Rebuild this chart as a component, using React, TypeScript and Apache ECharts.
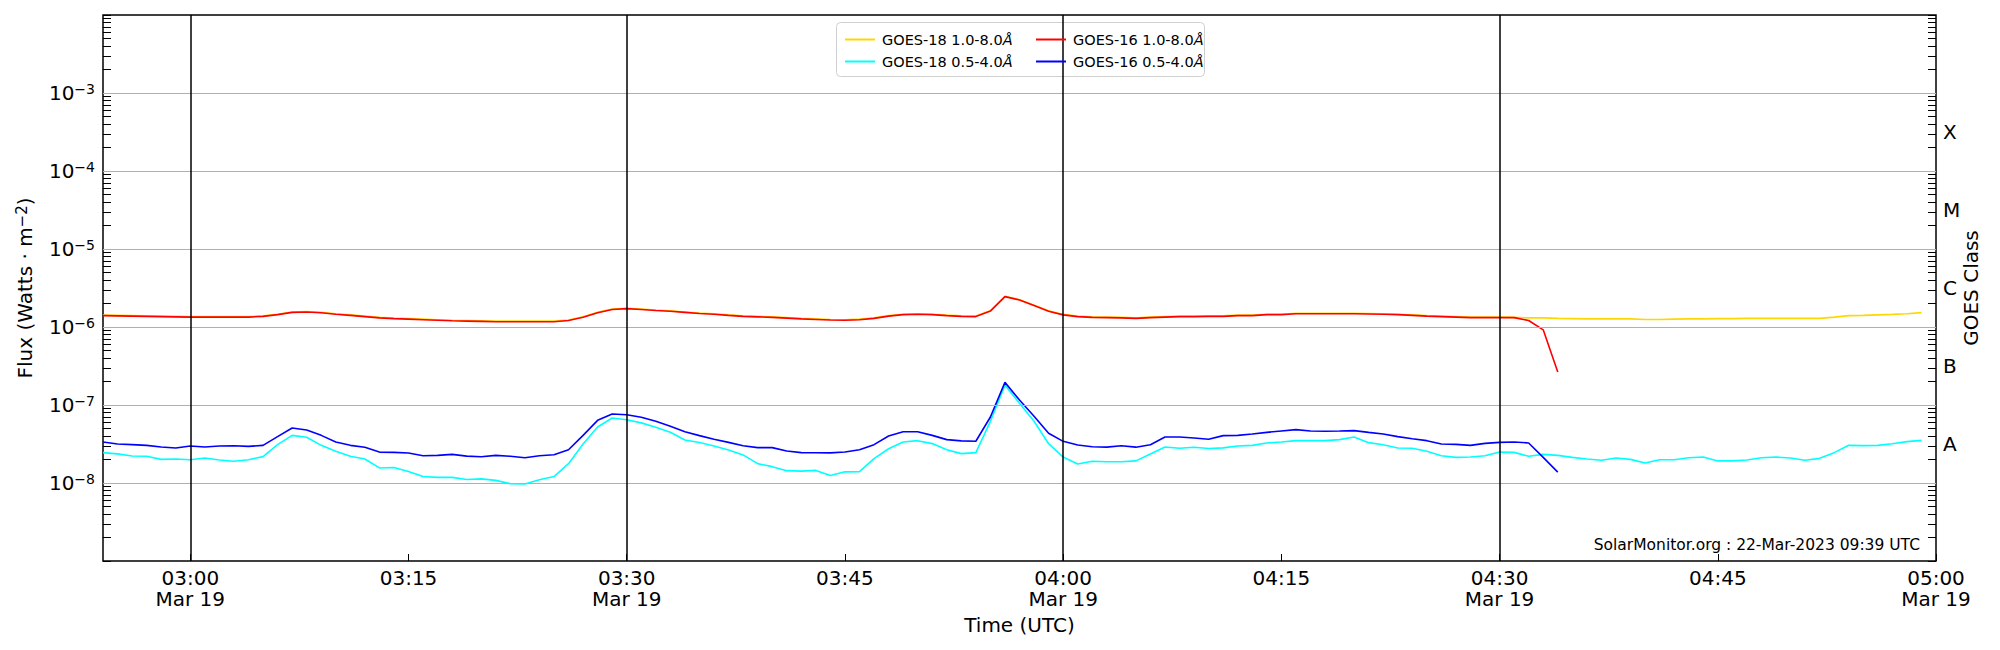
import React, { useEffect, useRef } from "react";
import * as echarts from "echarts";

// Time axis in minutes since 00:00 UTC, 19 Mar 2023 (02:54 .. 05:00)
const X_MIN = 174;
const X_MAX = 300;
const FIRST_SAMPLE = 174; // 02:54, one sample per minute
const X_TICKS = [180, 195, 210, 225, 240, 255, 270, 285, 300];
const X_VLINES = [180, 210, 240, 270];
const DATE_LABEL = "Mar 19";

const Y_MIN = 1e-9;
const Y_MAX = 1e-2;
const Y_LABELS = [1e-8, 1e-7, 1e-6, 1e-5, 1e-4, 1e-3];
const CLASS_NAMES = ["A", "B", "C", "M", "X"];
const CLASS_POS = [3.162e-8, 3.162e-7, 3.162e-6, 3.162e-5, 3.162e-4];

const NAME_G18_LONG = "GOES-18 1.0-8.0Å";
const NAME_G18_SHORT = "GOES-18 0.5-4.0Å";
const NAME_G16_LONG = "GOES-16 1.0-8.0Å";
const NAME_G16_SHORT = "GOES-16 0.5-4.0Å";

// GOES-16 1.0-8.0 Å (W m^-2), 02:54 .. 04:34
const G16_LONG = [
  1.40e-6, 1.39e-6, 1.38e-6, 1.37e-6, 1.36e-6, 1.35e-6, 1.34e-6, 1.34e-6, 1.34e-6, 1.34e-6,
  1.34e-6, 1.37e-6, 1.44e-6, 1.54e-6, 1.56e-6, 1.52e-6, 1.46e-6, 1.41e-6, 1.36e-6, 1.31e-6,
  1.28e-6, 1.26e-6, 1.24e-6, 1.22e-6, 1.20e-6, 1.19e-6, 1.18e-6, 1.17e-6, 1.17e-6, 1.17e-6,
  1.17e-6, 1.17e-6, 1.21e-6, 1.33e-6, 1.52e-6, 1.68e-6, 1.72e-6, 1.68e-6, 1.63e-6, 1.59e-6,
  1.54e-6, 1.49e-6, 1.46e-6, 1.41e-6, 1.37e-6, 1.35e-6, 1.33e-6, 1.30e-6, 1.27e-6, 1.25e-6,
  1.23e-6, 1.22e-6, 1.24e-6, 1.29e-6, 1.38e-6, 1.44e-6, 1.46e-6, 1.44e-6, 1.40e-6, 1.37e-6,
  1.36e-6, 1.60e-6, 2.45e-6, 2.22e-6, 1.88e-6, 1.59e-6, 1.43e-6, 1.36e-6, 1.33e-6, 1.32e-6,
  1.31e-6, 1.29e-6, 1.32e-6, 1.34e-6, 1.36e-6, 1.36e-6, 1.37e-6, 1.37e-6, 1.40e-6, 1.40e-6,
  1.44e-6, 1.44e-6, 1.48e-6, 1.48e-6, 1.48e-6, 1.48e-6, 1.48e-6, 1.47e-6, 1.46e-6, 1.44e-6,
  1.41e-6, 1.38e-6, 1.36e-6, 1.34e-6, 1.32e-6, 1.32e-6, 1.32e-6, 1.32e-6, 1.21e-6, 9.2e-7,
  2.65e-7,
];

// GOES-16 0.5-4.0 Å (W m^-2), 02:54 .. 04:34
const G16_SHORT = [
  3.36e-8, 3.16e-8, 3.10e-8, 3.04e-8, 2.90e-8, 2.81e-8, 2.98e-8, 2.90e-8, 2.98e-8, 3.00e-8,
  2.95e-8, 3.04e-8, 3.93e-8, 5.07e-8, 4.78e-8, 4.08e-8, 3.36e-8, 3.04e-8, 2.87e-8, 2.49e-8,
  2.47e-8, 2.42e-8, 2.24e-8, 2.26e-8, 2.33e-8, 2.21e-8, 2.17e-8, 2.26e-8, 2.20e-8, 2.11e-8,
  2.24e-8, 2.30e-8, 2.67e-8, 4.08e-8, 6.36e-8, 7.67e-8, 7.50e-8, 6.95e-8, 6.18e-8, 5.33e-8,
  4.55e-8, 4.05e-8, 3.63e-8, 3.32e-8, 3.01e-8, 2.84e-8, 2.84e-8, 2.57e-8, 2.45e-8, 2.44e-8,
  2.43e-8, 2.50e-8, 2.67e-8, 3.10e-8, 4.01e-8, 4.55e-8, 4.53e-8, 4.08e-8, 3.60e-8, 3.47e-8,
  3.43e-8, 7.02e-8, 1.95e-7, 1.16e-7, 7.16e-8, 4.34e-8, 3.42e-8, 3.07e-8, 2.92e-8, 2.88e-8,
  3.00e-8, 2.88e-8, 3.10e-8, 3.89e-8, 3.89e-8, 3.78e-8, 3.63e-8, 4.05e-8, 4.08e-8, 4.25e-8,
  4.46e-8, 4.64e-8, 4.83e-8, 4.64e-8, 4.60e-8, 4.64e-8, 4.69e-8, 4.46e-8, 4.25e-8, 3.93e-8,
  3.70e-8, 3.49e-8, 3.16e-8, 3.13e-8, 3.04e-8, 3.22e-8, 3.32e-8, 3.36e-8, 3.26e-8, 2.13e-8,
  1.38e-8,
];

// GOES-18 1.0-8.0 Å (W m^-2), 02:54 .. 04:59
const G18_LONG = [
  1.42e-6, 1.41e-6, 1.40e-6, 1.39e-6, 1.38e-6, 1.37e-6, 1.36e-6, 1.36e-6, 1.36e-6, 1.36e-6,
  1.36e-6, 1.39e-6, 1.46e-6, 1.56e-6, 1.58e-6, 1.54e-6, 1.48e-6, 1.43e-6, 1.38e-6, 1.33e-6,
  1.30e-6, 1.28e-6, 1.26e-6, 1.24e-6, 1.22e-6, 1.21e-6, 1.20e-6, 1.19e-6, 1.19e-6, 1.19e-6,
  1.19e-6, 1.19e-6, 1.23e-6, 1.35e-6, 1.54e-6, 1.70e-6, 1.74e-6, 1.70e-6, 1.65e-6, 1.61e-6,
  1.56e-6, 1.51e-6, 1.48e-6, 1.43e-6, 1.39e-6, 1.37e-6, 1.35e-6, 1.32e-6, 1.29e-6, 1.27e-6,
  1.25e-6, 1.24e-6, 1.26e-6, 1.31e-6, 1.40e-6, 1.46e-6, 1.48e-6, 1.46e-6, 1.42e-6, 1.39e-6,
  1.38e-6, 1.62e-6, 2.47e-6, 2.24e-6, 1.90e-6, 1.61e-6, 1.45e-6, 1.38e-6, 1.35e-6, 1.34e-6,
  1.33e-6, 1.31e-6, 1.34e-6, 1.36e-6, 1.38e-6, 1.38e-6, 1.39e-6, 1.39e-6, 1.42e-6, 1.42e-6,
  1.46e-6, 1.46e-6, 1.50e-6, 1.50e-6, 1.50e-6, 1.50e-6, 1.50e-6, 1.49e-6, 1.48e-6, 1.46e-6,
  1.43e-6, 1.40e-6, 1.38e-6, 1.36e-6, 1.34e-6, 1.34e-6, 1.34e-6, 1.33e-6, 1.31e-6, 1.31e-6,
  1.29e-6, 1.28e-6, 1.27e-6, 1.27e-6, 1.27e-6, 1.27e-6, 1.25e-6, 1.25e-6, 1.26e-6, 1.27e-6,
  1.27e-6, 1.28e-6, 1.28e-6, 1.29e-6, 1.29e-6, 1.29e-6, 1.29e-6, 1.29e-6, 1.29e-6, 1.34e-6,
  1.40e-6, 1.41e-6, 1.43e-6, 1.45e-6, 1.48e-6, 1.53e-6,
];

// GOES-18 0.5-4.0 Å (W m^-2), 02:54 .. 04:59
const G18_SHORT = [
  2.45e-8, 2.36e-8, 2.22e-8, 2.20e-8, 2.01e-8, 2.03e-8, 1.99e-8, 2.09e-8, 1.97e-8, 1.90e-8,
  1.99e-8, 2.18e-8, 3.10e-8, 4.08e-8, 3.86e-8, 3.04e-8, 2.55e-8, 2.20e-8, 2.03e-8, 1.56e-8,
  1.58e-8, 1.40e-8, 1.21e-8, 1.18e-8, 1.18e-8, 1.11e-8, 1.13e-8, 1.08e-8, 9.8e-9, 9.7e-9,
  1.10e-8, 1.21e-8, 1.77e-8, 3.16e-8, 5.22e-8, 6.81e-8, 6.48e-8, 5.90e-8, 5.17e-8, 4.47e-8,
  3.56e-8, 3.30e-8, 2.98e-8, 2.65e-8, 2.29e-8, 1.77e-8, 1.62e-8, 1.44e-8, 1.42e-8, 1.45e-8,
  1.25e-8, 1.39e-8, 1.40e-8, 2.05e-8, 2.75e-8, 3.36e-8, 3.49e-8, 3.20e-8, 2.67e-8, 2.38e-8,
  2.45e-8, 6.18e-8, 1.80e-7, 1.05e-7, 6.18e-8, 3.19e-8, 2.15e-8, 1.75e-8, 1.90e-8, 1.87e-8,
  1.87e-8, 1.92e-8, 2.36e-8, 2.90e-8, 2.79e-8, 2.87e-8, 2.77e-8, 2.82e-8, 2.98e-8, 3.04e-8,
  3.26e-8, 3.36e-8, 3.49e-8, 3.49e-8, 3.49e-8, 3.60e-8, 3.89e-8, 3.29e-8, 3.10e-8, 2.81e-8,
  2.79e-8, 2.55e-8, 2.24e-8, 2.13e-8, 2.15e-8, 2.24e-8, 2.49e-8, 2.47e-8, 2.20e-8, 2.33e-8,
  2.26e-8, 2.13e-8, 2.03e-8, 1.96e-8, 2.09e-8, 2.01e-8, 1.80e-8, 1.99e-8, 1.99e-8, 2.11e-8,
  2.15e-8, 1.92e-8, 1.92e-8, 1.97e-8, 2.11e-8, 2.15e-8, 2.09e-8, 1.96e-8, 2.07e-8, 2.45e-8,
  3.04e-8, 3.01e-8, 3.04e-8, 3.19e-8, 3.39e-8, 3.52e-8,
];

const FONT = "DejaVu Sans";

function pairs(values: number[]) {
  return values.map((v, i) => [FIRST_SAMPLE + i, v]);
}

// major + minor log ticks (1..9 × 10^k)
function logTicks() {
  const out: number[] = [];
  for (let k = -9; k <= -3; k++) {
    for (let j = 1; j <= 9; j++) out.push(Number((j * Math.pow(10, k)).toPrecision(3)));
  }
  out.push(1e-2);
  return out;
}

function fmtTime(m: number) {
  const h = Math.floor(m / 60);
  const mm = m % 60;
  const t = String(h).padStart(2, "0") + ":" + String(mm).padStart(2, "0");
  return m % 30 === 0 ? t + "\n" + DATE_LABEL : t;
}

export default function App() {
  const ref = useRef<HTMLDivElement>(null);
  useEffect(() => {
    if (!ref.current) return;
    const chart = echarts.init(ref.current, undefined, { renderer: "svg" });
    const ticks = logTicks();
    const legendCommon = {
      orient: "vertical" as const,
      icon: "rect",
      itemWidth: 30,
      itemHeight: 2,
      itemGap: 6,
      selectedMode: false,
      z: 6,
      formatter: (name: string) => name.replace("Å", "{i|Å}"),
      textStyle: {
        fontFamily: FONT,
        fontSize: 14.5,
        color: "#000",
        lineHeight: 16,
        padding: [0, 0, 0, 2],
        rich: { i: { fontFamily: FONT, fontSize: 14.5, lineHeight: 16, fontStyle: "italic", color: "#000" } },
      },
    };
    const option: any = {
      animation: false,
      backgroundColor: "#fff",
      textStyle: { fontFamily: FONT },
      grid: {
        left: 103,
        right: 64,
        top: 15,
        bottom: 89,
        show: true,
        borderColor: "#000",
        borderWidth: 1.5,
        backgroundColor: "transparent",
      },
      legend: [
        { ...legendCommon, left: 840, top: 26.5, data: [NAME_G18_LONG, NAME_G18_SHORT] },
        { ...legendCommon, left: 1031, top: 26.5, data: [NAME_G16_LONG, NAME_G16_SHORT] },
      ],
      xAxis: {
        type: "value",
        min: X_MIN,
        max: X_MAX,
        name: "Time (UTC)",
        nameLocation: "middle",
        nameGap: 54,
        nameTextStyle: { fontFamily: FONT, fontSize: 20, color: "#000" },
        axisLine: { show: false },
        splitLine: { show: false },
        axisTick: {
          show: true,
          inside: true,
          length: 7,
          customValues: X_TICKS,
          lineStyle: { color: "#000", width: 1 },
        },
        axisLabel: {
          customValues: X_TICKS,
          formatter: (v: number) => fmtTime(Math.round(v)),
          fontFamily: FONT,
          fontSize: 20,
          lineHeight: 21,
          color: "#000",
          margin: 6,
        },
      },
      yAxis: [
        {
          type: "log",
          logBase: 10,
          min: Y_MIN,
          max: Y_MAX,
          position: "left",
          name: "Flux (Watts · m{s|−2})",
          nameLocation: "middle",
          nameRotate: 90,
          nameGap: 67,
          nameMoveOverlap: false,
          nameTextStyle: {
            fontFamily: FONT,
            fontSize: 20,
            color: "#000",
            lineHeight: 22,
            rich: { s: { fontFamily: FONT, fontSize: 15, color: "#000", verticalAlign: "top", lineHeight: 12 } },
          },
          axisLine: { show: false },
          splitLine: { show: false },
          axisTick: { show: true, inside: true, length: 8, customValues: ticks, lineStyle: { color: "#000", width: 1 } },
          axisLabel: {
            customValues: Y_LABELS,
            formatter: (v: number) => "{b|10}{s|−" + String(-Math.round(Math.log10(v))) + "}",
            margin: 8,
            rich: {
              b: { fontFamily: FONT, fontSize: 20, color: "#000", lineHeight: 22, verticalAlign: "middle" },
              s: { fontFamily: FONT, fontSize: 14, color: "#000", lineHeight: 12, verticalAlign: "top" },
            },
          },
        },
        {
          type: "log",
          logBase: 10,
          min: Y_MIN,
          max: Y_MAX,
          position: "right",
          name: "GOES Class",
          nameLocation: "middle",
          nameRotate: 90,
          nameGap: 25,
          nameMoveOverlap: false,
          nameTextStyle: { fontFamily: FONT, fontSize: 20, color: "#000" },
          axisLine: { show: false },
          splitLine: { show: false },
          axisTick: { show: true, inside: true, length: 8, customValues: ticks, lineStyle: { color: "#000", width: 1 } },
          axisLabel: {
            customValues: CLASS_POS,
            formatter: (v: number) => CLASS_NAMES[Math.floor(Math.log10(v)) + 8] ?? "",
            fontFamily: FONT,
            fontSize: 20,
            color: "#000",
            margin: 7,
          },
        },
      ],
      graphic: [
        {
          type: "rect",
          z: 5,
          shape: { x: 836.5, y: 22.5, width: 368, height: 54, r: 4 },
          style: { fill: "rgba(255,255,255,0.8)", stroke: "#d0d0d0", lineWidth: 1 },
        },
        {
          type: "text",
          z: 5,
          x: 1920,
          y: 545,
          style: {
            text: "SolarMonitor.org : 22-Mar-2023 09:39 UTC",
            fontFamily: FONT,
            fontSize: 15.5,
            fill: "#000",
            align: "right",
            verticalAlign: "middle",
          },
        },
      ],
      series: [
        {
          name: NAME_G18_LONG,
          type: "line",
          data: pairs(G18_LONG),
          showSymbol: false,
          color: "#ffd700",
          lineStyle: { color: "#ffd700", width: 1.6 },
          z: 2,
          markLine: {
            silent: true,
            symbol: ["none", "none"],
            label: { show: false },
            lineStyle: { color: "#b0b0b0", width: 1, type: "solid" },
            data: Y_LABELS.map((v) => [{ coord: [X_MIN, v] }, { coord: [X_MAX, v] }]),
          },
        },
        {
          name: NAME_G18_SHORT,
          type: "line",
          data: pairs(G18_SHORT),
          showSymbol: false,
          color: "#00ffff",
          lineStyle: { color: "#00ffff", width: 1.6 },
          z: 2,
          markLine: {
            silent: true,
            symbol: ["none", "none"],
            label: { show: false },
            lineStyle: { color: "#000", width: 1.5, type: "solid" },
            data: X_VLINES.map((v) => ({ xAxis: v })),
          },
        },
        {
          name: NAME_G16_LONG,
          type: "line",
          data: pairs(G16_LONG),
          showSymbol: false,
          color: "#ff0000",
          lineStyle: { color: "#ff0000", width: 1.6 },
          z: 3,
        },
        {
          name: NAME_G16_SHORT,
          type: "line",
          data: pairs(G16_SHORT),
          showSymbol: false,
          color: "#0000ff",
          lineStyle: { color: "#0000ff", width: 1.6 },
          z: 3,
        },
      ],
    };
    chart.setOption(option);
    return () => chart.dispose();
  }, []);
  return (
    <div
      ref={ref}
      style={{ position: "absolute", left: 0, top: 0, width: 2000, height: 650, background: "#fff" }}
    />
  );
}
